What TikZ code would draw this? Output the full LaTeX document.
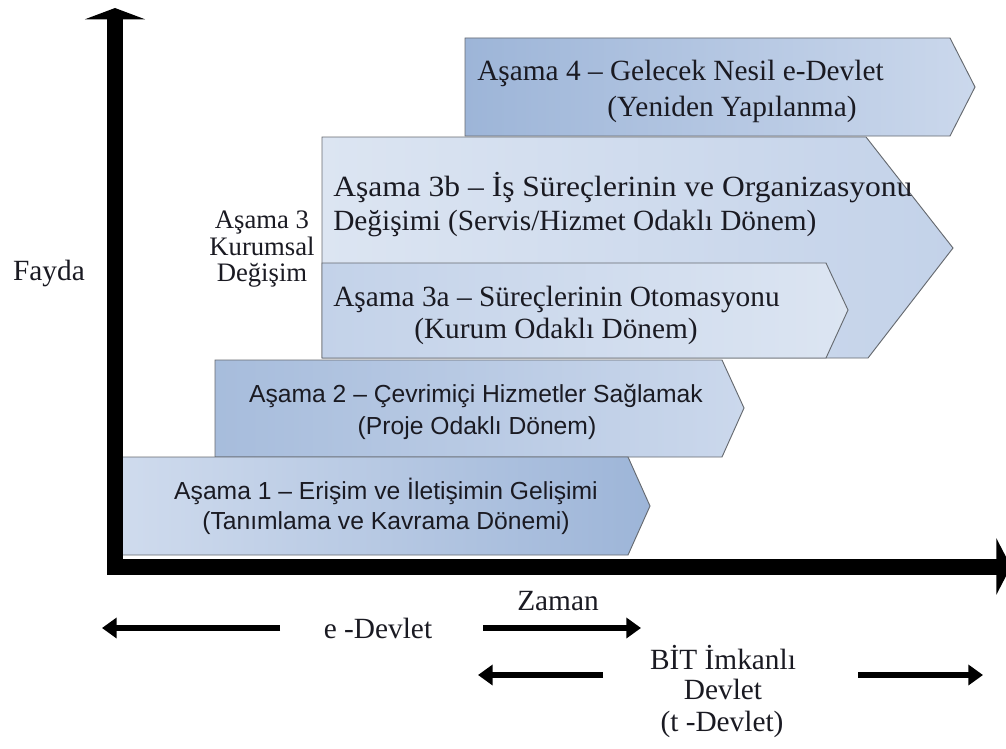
\documentclass[tikz,border=0pt]{standalone}
\usepackage{fontspec}
\usepackage{graphicx}
\setmainfont{Liberation Serif}
\newfontfamily\arialf{Liberation Sans}
\usetikzlibrary{arrows.meta}
\definecolor{dkA}{HTML}{9DB5D8}
\definecolor{dkB}{HTML}{CBD8EC}
\definecolor{ltA}{HTML}{DCE5F2}
\definecolor{ltB}{HTML}{C3D2E9}
\definecolor{edge}{HTML}{666A70}
\definecolor{txt}{HTML}{1A1A22}
\begin{document}
\begin{tikzpicture}[x=0.75pt,y=-0.75pt,
  stagebox/.style={draw=edge, line width=0.7pt, line join=miter},
  serif/.style={inner sep=0pt, text=txt, font=\fontsize{22}{26}\selectfont},
  serifsm/.style={inner sep=0pt, text=txt, font=\fontsize{20}{24}\selectfont},
  sans/.style={inner sep=0pt, text=txt, font=\arialf\fontsize{18.5}{22}\selectfont},
  axis/.style={line width=12pt, line join=miter, {Triangle[length=8.5pt,width=45pt]}-{Triangle[length=11pt,width=42pt]}},
  smallarr/.style={line width=5.2pt, -{Triangle[length=11pt,width=15pt]}}
]
\useasboundingbox (0,0) rectangle (1006,749);
\fill[white] (0,0) rectangle (1006,749);

% stage 4
\draw[stagebox, left color=dkA, right color=dkB] (465,38) -- (950,38) -- (975,87) -- (950,136) -- (465,136) -- cycle;
% stage 3b
\draw[stagebox, left color=ltA, right color=ltB] (322,137) -- (866,137) -- (953,248) -- (868,358) -- (322,358) -- cycle;
% stage 3a
\draw[stagebox, left color=ltB, right color=ltA] (322,263) -- (826,263) -- (848,310) -- (826,358) -- (322,358) -- cycle;
% stage 2
\draw[stagebox, left color=dkA!90!white, right color=dkB] (215,360) -- (722,360) -- (744,408) -- (722,457) -- (215,457) -- cycle;
% stage 1
\draw[stagebox, left color=ltB!80!white, right color=dkA] (122,457) -- (628,457) -- (650,506) -- (628,555) -- (122,555) -- cycle;

% axes
\coordinate (ytop) at (115,8);
\coordinate (origin) at (115,566.5);
\coordinate (xend) at (1011,566.5);
\draw[axis] (ytop) -- (origin) -- (xend);

% stage texts
\node[serif, anchor=base west] (s4a) at (477,80) {Aşama 4 – Gelecek Nesil e-Devlet};
\node[serif, anchor=base] (s4b) at (732,117) {(Yeniden Yapılanma)};
\node[serif, anchor=base west] (s3ba) at (333,196) {\scalebox{1.075}[1]{Aşama 3b – İş Süreçlerinin ve Organizasyonu}};
\node[serif, anchor=base west] (s3bb) at (333,230) {Değişimi (Servis/Hizmet Odaklı Dönem)};
\node[serif, anchor=base west] (s3aa) at (333,306) {Aşama 3a – Süreçlerinin Otomasyonu};
\node[serif, anchor=base] (s3ab) at (556,338) {(Kurum Odaklı Dönem)};
\node[sans, anchor=base] (s2a) at (476,402) {Aşama 2 – Çevrimiçi Hizmetler Sağlamak};
\node[sans, anchor=base] (s2b) at (477,434) {(Proje Odaklı Dönem)};
\node[sans, anchor=base] (s1a) at (386,499) {Aşama 1 – Erişim ve İletişimin Gelişimi};
\node[sans, anchor=base] (s1b) at (386,529) {(Tanımlama ve Kavrama Dönemi)};

% side labels
\node[serif, anchor=base] (fayda) at (49,280) {Fayda};
\node[serifsm, anchor=base] (a3l1) at (262,228) {Aşama 3};
\node[serifsm, anchor=base] (a3l2) at (262,255) {Kurumsal};
\node[serifsm, anchor=base] (a3l3) at (262,281) {Değişim};

% bottom labels
\node[serif, anchor=base] (zaman) at (558,610) {Zaman};
\node[serif, anchor=base] (edev) at (378,638) {e -Devlet};
\node[serif, anchor=base] (bit1) at (723,669) {BİT İmkanlı};
\node[serif, anchor=base] (bit2) at (723,699) {Devlet};
\node[serif, anchor=base] (bit3) at (722,731) {(t -Devlet)};

% small arrows
\coordinate (eL0) at (280,628);
\coordinate (eL1) at (102,628);
\coordinate (eR0) at (483,628);
\coordinate (eR1) at (641,628);
\coordinate (bL0) at (603,675);
\coordinate (bL1) at (478,675);
\coordinate (bR0) at (858,675);
\coordinate (bR1) at (983,675);
\draw[smallarr] (eL0) -- (eL1);
\draw[smallarr] (eR0) -- (eR1);
\draw[smallarr] (bL0) -- (bL1);
\draw[smallarr] (bR0) -- (bR1);
\end{tikzpicture}
\end{document}
